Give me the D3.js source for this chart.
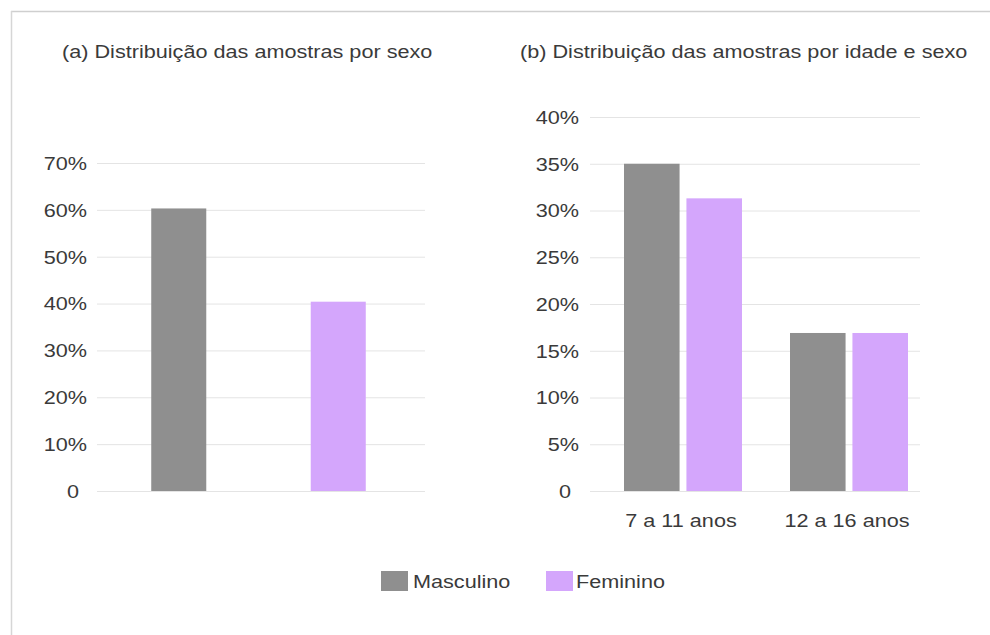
<!DOCTYPE html>
<html>
<head>
<meta charset="utf-8">
<script src="https://cdn.jsdelivr.net/npm/d3@7/dist/d3.min.js"></script>
<style>
  html, body { margin: 0; padding: 0; background: #fff; }
  svg { display: block; }
  text { font-family: "Liberation Sans", Arial, Helvetica, sans-serif; fill: #3a3a3a; }
</style>
</head>
<body>
<svg id="chart" width="990" height="635"></svg>
<script>
// ---- data ----
const series = ["Masculino", "Feminino"];
const colors = ["#8f8f8f", "#d4a6fc"];

// (a) share of samples by sex
const sexValues = [60.3, 40.4];
const sexTicks = [0, 10, 20, 30, 40, 50, 60, 70];

// (b) share of samples by age group and sex
const ageGroups = ["7 a 11 anos", "12 a 16 anos"];
const ageMasculino = [35.0, 16.9];
const ageFeminino = [31.3, 16.9];
const ageTicks = [0, 5, 10, 15, 20, 25, 30, 35, 40];

const titles = ["(a) Distribuição das amostras por sexo",
                "(b) Distribuição das amostras por idade e sexo"];

// ---- drawing ----
const svg = d3.select("#chart");
const FS = 18.5;        // font size
const SX = 1.17;        // horizontal text stretch
const textScale = `scale(${SX},1)`;
const fmt = v => v === 0 ? "0" : v + "%";

// frame lines (top and left)
svg.append("line").attr("x1", 11).attr("x2", 990).attr("y1", 11.5).attr("y2", 11.5)
  .attr("stroke", "#cfcfcf").attr("stroke-width", 1.5);
svg.append("line").attr("x1", 11.5).attr("x2", 11.5).attr("y1", 11).attr("y2", 635)
  .attr("stroke", "#d6d6d6").attr("stroke-width", 1.5);

function addText(parent, x, y, str, anchor) {
  return parent.append("text")
    .attr("transform", `translate(${x},${y}) ${textScale}`)
    .attr("text-anchor", anchor || "start")
    .style("font-size", FS + "px")
    .text(str);
}

function drawAxis(g, y, ticks, x0, x1, pad) {
  const axis = d3.axisLeft(y).tickValues(ticks).tickFormat(fmt)
    .tickSizeInner(-(x1 - x0)).tickSizeOuter(0).tickPadding(pad);
  const ag = g.append("g").attr("transform", `translate(${x0},0)`).call(axis);
  ag.select(".domain").remove();
  ag.selectAll(".tick line").attr("stroke", "#e4e4e4").attr("stroke-width", 1);
  ag.selectAll(".tick text")
    .attr("x", null).attr("dy", "0.34em")
    .attr("transform", d => `translate(${-pad - (d === 0 ? 8 : 0)},0) ${textScale}`)
    .style("font-size", FS + "px")
    .style("font-family", "'Liberation Sans', Arial, sans-serif")
    .attr("fill", "#3a3a3a");
}

// ---- panel (a) ----
const pa = svg.append("g");
addText(pa, 62, 58, titles[0]);
const yA = d3.scaleLinear().domain([0, 70]).range([491, 163]);
drawAxis(pa, yA, sexTicks, 97, 425, 10);
const xA = d3.scaleBand().domain(series).range([99, 418])
  .paddingInner(0.655).paddingOuter(0.3275);
pa.selectAll("rect.bar").data(series.map((s, i) => ({ s, v: sexValues[i], c: colors[i] })))
  .join("rect").attr("class", "bar")
  .attr("x", d => xA(d.s)).attr("width", xA.bandwidth())
  .attr("y", d => yA(d.v)).attr("height", d => yA(0) - yA(d.v))
  .attr("fill", d => d.c);

// ---- panel (b) ----
const pb = svg.append("g");
addText(pb, 520, 58, titles[1]);
const yB = d3.scaleLinear().domain([0, 40]).range([491, 117]);
drawAxis(pb, yB, ageTicks, 590, 920, 11);
const x0 = d3.scaleBand().domain(ageGroups).range([600, 932]);
const x1 = d3.scaleBand().domain(series).range([24, x0.bandwidth() - 24]).paddingInner(0.11);
const ageData = ageGroups.map((g, i) => ({
  g, vals: [{ s: series[0], v: ageMasculino[i], c: colors[0] },
            { s: series[1], v: ageFeminino[i], c: colors[1] }]
}));
const grp = pb.selectAll("g.grp").data(ageData).join("g").attr("class", "grp")
  .attr("transform", d => `translate(${x0(d.g)},0)`);
grp.selectAll("rect").data(d => d.vals).join("rect")
  .attr("x", d => x1(d.s)).attr("width", x1.bandwidth())
  .attr("y", d => yB(d.v)).attr("height", d => yB(0) - yB(d.v))
  .attr("fill", d => d.c);
ageGroups.forEach(g => addText(pb, x0(g) + x0.bandwidth() / 2 - 2, 527, g, "middle"));

// ---- legend ----
const lg = svg.append("g");
const legendPos = [{ rx: 381, tx: 413 }, { rx: 546, tx: 576 }];
series.forEach((s, i) => {
  lg.append("rect").attr("x", legendPos[i].rx).attr("y", 571).attr("width", 27).attr("height", 20)
    .attr("fill", colors[i]);
  addText(lg, legendPos[i].tx, 588, s);
});
</script>
</body>
</html>
